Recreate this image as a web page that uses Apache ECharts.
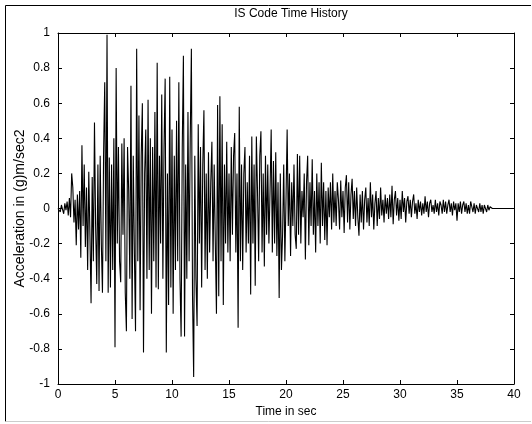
<!DOCTYPE html>
<html>
<head>
<meta charset="utf-8">
<script src="https://cdn.jsdelivr.net/npm/echarts@6/dist/echarts.min.js"></script>
<style>
html,body{margin:0;padding:0;background:#fff;}
#c{width:532px;height:424px;}
</style>
</head>
<body>
<div id="c"></div>
<script>
// Sampling step of the record (seconds)
var timeStep = 0.1;
// Acceleration values (g), one per 0.1 s
var acceleration = [
 0.00, 0.01,-0.02, 0.02, 0.01,-0.03, 0.03,-0.01, 0.04,-0.04,
 0.06,-0.05, 0.20, 0.12,-0.08, 0.05,-0.21, 0.08,-0.12, 0.10,
-0.28, 0.36,-0.10, 0.25,-0.22, 0.12,-0.35, 0.21,-0.15,-0.54,
 0.18,-0.30, 0.49,-0.10,-0.43, 0.25,-0.47, 0.30,-0.20,-0.48,
 0.32, 0.72,-0.30, 0.99,-0.48, 0.29,-0.45, 0.25,-0.35, 0.40,
-0.79, 0.80,-0.20, 0.35,-0.30,-0.42, 0.37,-0.15, 0.40,-0.48,
-0.70, 0.35, 0.10,-0.40, 0.70,-0.63, 0.30,-0.25,-0.70, 0.91,
-0.30, 0.53,-0.58, 0.30, 0.60,-0.82, 0.20, 0.45,-0.40, 0.62,
-0.35, 0.40,-0.60, 0.35,-0.30, 0.55,-0.45, 0.83,-0.46, 0.30,
-0.20, 0.65,-0.40, 0.35, 0.74,-0.82, 0.20,-0.55, 0.75,-0.45,
 0.45,-0.60, 0.30,-0.35, 0.50,-0.30, 0.72,-0.40,-0.73, 0.35,
 0.87,-0.73, 0.25,-0.40, 0.55,-0.30, 0.40, 0.91,-0.50,-0.96,
 0.30,-0.40,-0.67, 0.48,-0.20, 0.35,-0.45, 0.25, 0.56,-0.35,
 0.20,-0.40, 0.32,-0.25, 0.15, 0.38,-0.30, 0.25,-0.20,-0.60,
 0.59,-0.50, 0.64,-0.30, 0.48,-0.55, 0.25,-0.20, 0.38,-0.25,
 0.20,-0.30, 0.35,-0.15, 0.30, 0.43,-0.25, 0.20,-0.68, 0.58,
-0.30, 0.25,-0.35, 0.20, 0.35,-0.25, 0.15,-0.20, 0.30,-0.49,
 0.41,-0.20, 0.25,-0.44, 0.41, 0.10,-0.30, 0.30, 0.44,-0.25,
 0.20,-0.33, 0.30,-0.15, 0.25,-0.20, 0.10, 0.45,-0.25, 0.27,
-0.20, 0.32,-0.27, 0.15,-0.51, 0.20,-0.35,-0.15, 0.25,-0.30,
 0.05, 0.45,-0.10, 0.20,-0.27, 0.15,-0.10, 0.25,-0.15,-0.23,
 0.31,-0.15, 0.30,-0.20, 0.10,-0.05, 0.20,-0.29, 0.15, 0.30,
-0.21, 0.15,-0.10, 0.28,-0.15, 0.10,-0.25, 0.20,-0.10, 0.15,
-0.20, 0.26,-0.10, 0.15,-0.18, 0.10,-0.21, 0.12,-0.05, 0.15,
-0.12, 0.20,-0.08, 0.10,-0.10, 0.15, 0.05,-0.12, 0.16,-0.05,
 0.10,-0.14, 0.12, 0.19,-0.08, 0.15,-0.12, 0.08, 0.17,-0.06,
 0.10,-0.10, 0.12,-0.05,-0.155,0.08,-0.08, 0.10,-0.12, 0.05,
 0.12,-0.08, 0.06,-0.10, 0.15,-0.05, 0.08,-0.12, 0.03, 0.10,
-0.10, 0.06,-0.06, 0.12,-0.04, 0.05,-0.08, 0.08,-0.03, 0.06,
-0.06, 0.08,-0.05, 0.13,-0.09, 0.05, 0.10,-0.04, 0.06,-0.07,
 0.05,-0.06, 0.10,-0.02, 0.06,-0.08, 0.04, 0.07,-0.03, 0.05,
-0.05, 0.04, 0.08,-0.03, 0.03,-0.06, 0.05,-0.02, 0.04,-0.04,
 0.03,-0.03, 0.07,-0.02, 0.04,-0.05, 0.03, 0.05,-0.02, 0.02,
-0.03, 0.05,-0.02, 0.03,-0.04, 0.04, 0.02,-0.03, 0.05,-0.02,
 0.04,-0.03, 0.02, 0.05,-0.02, 0.03,-0.04, 0.04,-0.01, 0.03,
-0.07, 0.03,-0.02, 0.04,-0.03, 0.02, 0.04,-0.02, 0.03,-0.03,
 0.02,-0.03, 0.04, 0.01,-0.02, 0.03,-0.03, 0.02, 0.03,-0.02,
 0.03,-0.02, 0.02,-0.03, 0.02, 0.01,-0.02, 0.02,-0.01, 0.01,
 0.00, 0.00, 0.00, 0.00, 0.00, 0.00, 0.00, 0.00, 0.00, 0.00,
 0.00, 0.00, 0.00, 0.00, 0.00, 0.00, 0.00, 0.00, 0.00, 0.00,
 0.00
];
var xTicks = [0, 5, 10, 15, 20, 25, 30, 35, 40];
var yTicks = [-1, -0.8, -0.6, -0.4, -0.2, 0, 0.2, 0.4, 0.6, 0.8, 1];

var seriesData = acceleration.map(function (v, i) {
  return [Math.round(i * timeStep * 100) / 100, v];
});

var FONT = '"Liberation Sans", Arial, sans-serif';
var chart = echarts.init(document.getElementById('c'), null, {renderer: 'canvas'});
var tickStyle = {color: '#000', fontSize: 12, fontFamily: FONT};
chart.setOption({
  animation: false,
  backgroundColor: '#fff',
  title: {
    text: 'IS Code Time History',
    left: 286, top: 3, textAlign: 'center',
    textStyle: {fontSize: 12, fontWeight: 'normal', color: '#000', fontFamily: FONT}
  },
  grid: {left: 58, right: 18, top: 33, bottom: 40, show: false, containLabel: false, outerBoundsMode: 'none'},
  xAxis: [{
    type: 'value', min: xTicks[0], max: xTicks[xTicks.length - 1], interval: 5,
    name: 'Time in sec', nameLocation: 'middle', nameGap: 22, nameMoveOverlap: false,
    nameTextStyle: {fontSize: 12, color: '#000', fontFamily: FONT},
    axisLine: {show: true, onZero: false, lineStyle: {color: '#000', width: 1}},
    axisTick: {show: true, inside: true, length: 4, lineStyle: {color: '#000'}},
    axisLabel: Object.assign({margin: 5}, tickStyle),
    splitLine: {show: false}
  }, {
    type: 'value', position: 'top', min: 0, max: 40, interval: 5,
    axisLine: {show: true, onZero: false, lineStyle: {color: '#000', width: 1}},
    axisTick: {show: true, inside: true, length: 4, lineStyle: {color: '#000'}},
    axisLabel: {show: false}, splitLine: {show: false}
  }],
  yAxis: [{
    type: 'value', min: yTicks[0], max: yTicks[yTicks.length - 1], interval: 0.2,
    name: 'Acceleration in (g)m/sec2', nameLocation: 'middle', nameGap: 31, nameMoveOverlap: false,
    nameTextStyle: {fontSize: 14, color: '#000', fontFamily: FONT},
    axisLine: {show: true, onZero: false, lineStyle: {color: '#000', width: 1}},
    axisTick: {show: true, inside: true, length: 4, lineStyle: {color: '#000'}},
    axisLabel: Object.assign({margin: 8, formatter: function (v) {
      return String(Math.round(v * 10) / 10);
    }}, tickStyle),
    splitLine: {show: false}
  }, {
    type: 'value', position: 'right', min: -1, max: 1, interval: 0.2,
    axisLine: {show: true, onZero: false, lineStyle: {color: '#000', width: 1}},
    axisTick: {show: true, inside: true, length: 4, lineStyle: {color: '#000'}},
    axisLabel: {show: false}, splitLine: {show: false}
  }],
  series: [{
    type: 'line',
    data: seriesData,
    showSymbol: false,
    symbol: 'none',
    lineStyle: {color: '#000', width: 1.1},
    clip: true
  }],
  graphic: [
    {type: 'line', shape: {x1: 5.5, y1: 5.5, x2: 531, y2: 5.5}, style: {stroke: '#000', lineWidth: 1}},
    {type: 'line', shape: {x1: 5.5, y1: 5.5, x2: 5.5, y2: 421.5}, style: {stroke: '#000', lineWidth: 1}},
    {type: 'line', shape: {x1: 5.5, y1: 421.5, x2: 531, y2: 421.5}, style: {stroke: '#ccc', lineWidth: 1}}
  ]
});
</script>
</body>
</html>
